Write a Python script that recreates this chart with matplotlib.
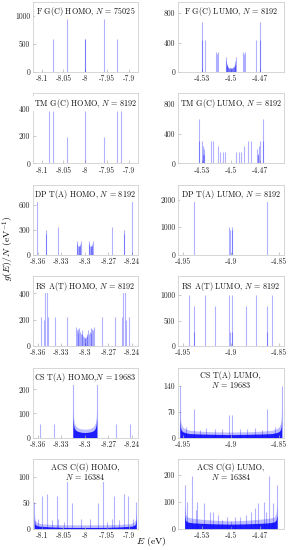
import numpy as np
import matplotlib
matplotlib.use("Agg")
import matplotlib.pyplot as plt

plt.rcParams['font.family'] = ['cmr10', 'DejaVu Serif']
plt.rcParams['mathtext.fontset'] = 'cm'
plt.rcParams['axes.formatter.use_mathtext'] = True

# -----------------------------
# Data (energies in eV, heights in g(E)/N)
# -----------------------------
fgc_homo_x = [-8.073, -8.042, -8.0, -8.0, -7.958, -7.927]
fgc_homo_h = [585, 955, 585, 585, 955, 585]

fgc_lumo_x = [-4.5300, -4.5300, -4.5268, -4.5152, -4.5141, -4.5130,
              -4.5052, -4.5048, -4.5044, -4.5040, -4.5035, -4.5030, -4.5025, -4.5020,
              -4.5015, -4.5010, -4.5005, -4.5000, -4.4995, -4.4990, -4.4985, -4.4980,
              -4.4975, -4.4970, -4.4965, -4.4960, -4.4956, -4.4952, -4.4948,
              -4.4870, -4.4859, -4.4848, -4.4732, -4.4700, -4.4700]
fgc_lumo_h = [680, 430, 430, 270, 250, 270,
              200, 150, 110, 90, 75, 70, 65, 60,
              60, 58, 55, 55, 55, 58, 60, 60,
              65, 70, 75, 90, 110, 150, 200,
              270, 250, 270, 430, 430, 680]

tm_homo_x = [-8.083, -8.073, -8.042, -8.0, -7.958, -7.927, -7.917]
tm_homo_h = [380, 380, 190, 380, 190, 380, 380]

tm_lumo_x = [-4.5333, -4.5333, -4.5300, -4.5293, -4.5287, -4.5282, -4.5276,
             -4.5210, -4.5185, -4.5134, -4.5110, -4.5086, -4.5059,
             -4.4941, -4.4914, -4.4890, -4.4866, -4.4815, -4.4790,
             -4.4724, -4.4718, -4.4713, -4.4707, -4.4700, -4.4667, -4.4667]
tm_lumo_h = [600, 300, 300, 230, 120, 110, 200,
             300, 300, 230, 150, 150, 150,
             150, 150, 150, 230, 300, 300,
             200, 110, 120, 230, 300, 300, 600]

dp_homo_x = [-8.3604, -8.3492, -8.3492, -8.3343,
             -8.3100, -8.3094, -8.3088, -8.3080, -8.3072, -8.3064, -8.3057, -8.3049,
             -8.2951, -8.2943, -8.2936, -8.2928, -8.2920, -8.2912, -8.2906, -8.2900,
             -8.2657, -8.2508, -8.2508, -8.2396]
dp_homo_h = [670, 300, 250, 335,
             165, 130, 110, 100, 100, 110, 130, 165,
             165, 130, 110, 100, 100, 110, 130, 165,
             335, 300, 250, 670]

dp_lumo_x = [-4.9383, -4.9015, -4.9012, -4.8988, -4.8985, -4.8617]
dp_lumo_h = [2050, 1000, 900, 900, 1000, 2050]

rs_homo_x = [-8.3563, -8.3521, -8.3508, -8.3486, -8.3473, -8.3379, -8.3221,
             -8.3112, -8.3102, -8.3092, -8.3082, -8.3072, -8.3062, -8.3052, -8.3042,
             -8.3032, -8.3022, -8.3012, -8.3004, -8.2996, -8.2988, -8.2978, -8.2968,
             -8.2958, -8.2948, -8.2938, -8.2928, -8.2918, -8.2908, -8.2898, -8.2888,
             -8.2779, -8.2621, -8.2527, -8.2514, -8.2492, -8.2479, -8.2437]
rs_homo_h = [220, 200, 420, 420, 220, 220, 220,
             145, 120, 130, 100, 140, 110, 95, 120,
             90, 80, 70, 60, 60, 70, 80, 90,
             120, 95, 110, 140, 100, 130, 120, 145,
             220, 220, 220, 420, 420, 200, 220]

rs_lumo_x = [-4.9435, -4.9383, -4.9383, -4.9267, -4.9162,
             -4.9015, -4.9008, -4.8992, -4.8985,
             -4.8838, -4.8733, -4.8617, -4.8617, -4.8565]
rs_lumo_h = [1000, 780, 270, 1000, 780,
             1000, 280, 280, 1000,
             780, 1000, 780, 270, 1000]

cs_homo_x = [-8.3574, -8.3394, -8.3151, -8.2849, -8.2606, -8.2426]
cs_homo_h = [55, 55, 220, 220, 55, 55]
cs_homo_band_x = [-8.3151, -8.3145, -8.3135, -8.3120, -8.3100, -8.3070, -8.3040,
                  -8.3000, -8.2960, -8.2930, -8.2900, -8.2880, -8.2865, -8.2855, -8.2849]
cs_homo_band_lo = [80, 55, 40, 32, 27, 24, 22, 21, 22, 24, 27, 32, 40, 55, 80]
cs_homo_band_hi = [120, 85, 62, 50, 43, 38, 36, 35, 36, 38, 43, 50, 62, 85, 120]

cs_lumo_x = [-4.9530, -4.9463, -4.9383, -4.9323, -4.9253, -4.9165, -4.9095,
             -4.9015, -4.8985, -4.8905, -4.8835, -4.8747, -4.8677, -4.8617, -4.8537, -4.8470]
cs_lumo_h = [140, 30, 78, 20, 25, 22, 22,
             60, 60, 22, 22, 25, 20, 78, 30, 140]
cs_lumo_band_x = [-4.9530, -4.9525, -4.9515, -4.9500, -4.9470, -4.9430, -4.9350, -4.9200,
                  -4.9000, -4.8800, -4.8650, -4.8570, -4.8530, -4.8500, -4.8485, -4.8475, -4.8470]
cs_lumo_band_lo = [45, 28, 20, 16, 13, 11, 10, 9, 8, 9, 10, 11, 13, 16, 20, 28, 45]
cs_lumo_band_hi = [80, 50, 36, 28, 23, 20, 18, 16, 15, 16, 18, 20, 23, 28, 36, 50, 80]

acs_homo_x = [-8.117, -8.109, -8.099, -8.088, -8.0775, -8.066, -8.0615, -8.049, -8.041,
              -8.030, -8.010, -7.990, -7.970, -7.959, -7.951, -7.9385, -7.934, -7.9225,
              -7.912, -7.901, -7.891, -7.883]
acs_homo_h = [53, 20, 63, 68, 17, 63, 20, 14, 92,
              50, 20, 20, 50, 92, 14, 20, 63, 17,
              68, 63, 20, 53]
acs_homo_band_x = [-8.117, -8.115, -8.110, -8.100, -8.080, -8.050, -8.000,
                   -7.950, -7.920, -7.900, -7.890, -7.885, -7.883]
acs_homo_band_lo = [20, 9, 6, 5, 4, 3, 3, 3, 4, 5, 6, 9, 20]
acs_homo_band_hi = [32, 17, 12, 10, 9, 8, 8, 8, 9, 10, 12, 17, 32]

acs_lumo_x = [-4.5480, -4.5452, -4.5400, -4.5367, -4.5350, -4.5281, -4.5220, -4.5185,
              -4.5138, -4.5093, -4.5035, -4.5000, -4.4956, -4.4904, -4.4836, -4.4784,
              -4.4750, -4.4716, -4.4658, -4.4637, -4.4596, -4.4562, -4.4517]
acs_lumo_h = [163, 100, 198, 70, 100, 95, 64, 64,
              52, 35, 45, 30, 45, 45, 52, 64,
              77, 95, 100, 64, 198, 95, 163]
acs_lumo_band_x = [-4.5480, -4.5470, -4.5450, -4.5400, -4.5300, -4.5150, -4.5000,
                   -4.4850, -4.4700, -4.4600, -4.4550, -4.4530, -4.4517]
acs_lumo_band_lo = [50, 32, 26, 23, 21, 19, 18, 19, 21, 23, 26, 32, 50]
acs_lumo_band_hi = [85, 55, 44, 40, 36, 32, 30, 32, 36, 40, 44, 55, 85]

titles = [
    r"F G(C) HOMO, $N$ = 75025", r"F G(C) LUMO, $N$ = 8192",
    r"TM G(C) HOMO, $N$ = 8192", r"TM G(C) LUMO, $N$ = 8192",
    r"DP T(A) HOMO, $N$ = 8192", r"DP T(A) LUMO, $N$ = 8192",
    r"RS A(T) HOMO, $N$ = 8192", r"RS A(T) LUMO, $N$ = 8192",
    r"CS T(A) HOMO,$N$ = 19683", "CS T(A) LUMO,\n$N$ = 19683",
    "ACS C(G) HOMO,\n$N$ = 16384", "ACS C(G) LUMO,\n$N$ = 16384",
]

gc_homo_ticks = [-8.1, -8.05, -8.0, -7.95, -7.9]
gc_homo_labels = ["-8.1", "-8.05", "-8", "-7.95", "-7.9"]
gc_lumo_ticks = [-4.53, -4.5, -4.47]
gc_lumo_labels = ["-4.53", "-4.5", "-4.47"]
ta_homo_ticks = [-8.36, -8.33, -8.3, -8.27, -8.24]
ta_homo_labels = ["-8.36", "-8.33", "-8.3", "-8.27", "-8.24"]
ta_lumo_ticks = [-4.95, -4.9, -4.85]
ta_lumo_labels = ["-4.95", "-4.9", "-4.85"]

panels = [
    (fgc_homo_x, fgc_homo_h, None, (-8.12, -7.88), (0, 1250), [0, 500, 1000], gc_homo_ticks, gc_homo_labels),
    (fgc_lumo_x, fgc_lumo_h, None, (-4.555, -4.445), (0, 950), [0, 400, 800], gc_lumo_ticks, gc_lumo_labels),
    (tm_homo_x, tm_homo_h, None, (-8.12, -7.88), (0, 510), [0, 200, 400], gc_homo_ticks, gc_homo_labels),
    (tm_lumo_x, tm_lumo_h, None, (-4.555, -4.445), (0, 940), [0, 400, 800], gc_lumo_ticks, gc_lumo_labels),
    (dp_homo_x, dp_homo_h, None, (-8.366, -8.233), (0, 840), [0, 300, 600], ta_homo_ticks, ta_homo_labels),
    (dp_lumo_x, dp_lumo_h, None, (-4.955, -4.845), (0, 2540), [0, 1000, 2000], ta_lumo_ticks, ta_lumo_labels),
    (rs_homo_x, rs_homo_h, None, (-8.366, -8.233), (0, 530), [0, 200, 400], ta_homo_ticks, ta_homo_labels),
    (rs_lumo_x, rs_lumo_h, None, (-4.955, -4.845), (0, 1370), [0, 500, 1000], ta_lumo_ticks, ta_lumo_labels),
    (cs_homo_x, cs_homo_h, (cs_homo_band_x, cs_homo_band_lo, cs_homo_band_hi),
     (-8.366, -8.233), (0, 290), [0, 100, 200], ta_homo_ticks, ta_homo_labels),
    (cs_lumo_x, cs_lumo_h, (cs_lumo_band_x, cs_lumo_band_lo, cs_lumo_band_hi),
     (-4.955, -4.845), (0, 190), [0, 70, 140], ta_lumo_ticks, ta_lumo_labels),
    (acs_homo_x, acs_homo_h, (acs_homo_band_x, acs_homo_band_lo, acs_homo_band_hi),
     (-8.12, -7.88), (0, 135), [0, 50, 100], gc_homo_ticks, gc_homo_labels),
    (acs_lumo_x, acs_lumo_h, (acs_lumo_band_x, acs_lumo_band_lo, acs_lumo_band_hi),
     (-4.555, -4.445), (0, 260), [0, 100, 200], gc_lumo_ticks, gc_lumo_labels),
]

W, H = 290, 550
fig = plt.figure(figsize=(W / 100, H / 100), dpi=100)

col_left = [33, 178]
col_width = [104.5, 105.5]
row_bottom = [72, 163.4, 254.8, 346.2, 437.6, 529]
ax_height = 70
blue = (0.0, 0.0, 1.0)

for i, (xs, hs, band, xlim, ylim, yticks, xticks, xlabels) in enumerate(panels):
    r, c = divmod(i, 2)
    ax = fig.add_axes([col_left[c] / W, 1 - row_bottom[r] / H,
                       col_width[c] / W, ax_height / H])

    if band is not None:
        bx, blo, bhi = band
        ax.fill_between(bx, 0, bhi, color=blue, alpha=0.25, lw=0)
        ax.fill_between(bx, 0, blo, color=blue, alpha=0.85, lw=0)

    ax.vlines(xs, 0, hs, colors=[blue], lw=0.8, alpha=0.3)

    ax.set_xlim(*xlim)
    ax.set_ylim(*ylim)
    ax.set_xticks(xticks)
    ax.set_xticklabels(xlabels)
    ax.set_yticks(yticks)
    ax.set_yticklabels([str(v) for v in yticks])
    ax.tick_params(direction='in', length=2, width=0.5, color='#b0b0b0',
                   labelsize=5.5, pad=2, labelcolor='#262626')
    for sp in ax.spines.values():
        sp.set_color('#d0d0d0')
        sp.set_linewidth(0.6)

    ax.text(0.5, 0.95, titles[i], transform=ax.transAxes, ha='center', va='top',
            fontsize=5.8, color='#111111', linespacing=1.0,
            bbox=dict(facecolor='white', edgecolor='none', pad=0.5))

fig.text(8 / W, 1 - 248 / H, r"$g(E)/N$ (eV$^{-1}$)", rotation=90,
         ha='center', va='center', fontsize=7)
fig.text(151 / W, 1 - 541 / H, r"$E$ (eV)", ha='center', va='center', fontsize=7)

fig.savefig("out.png", dpi=100)
